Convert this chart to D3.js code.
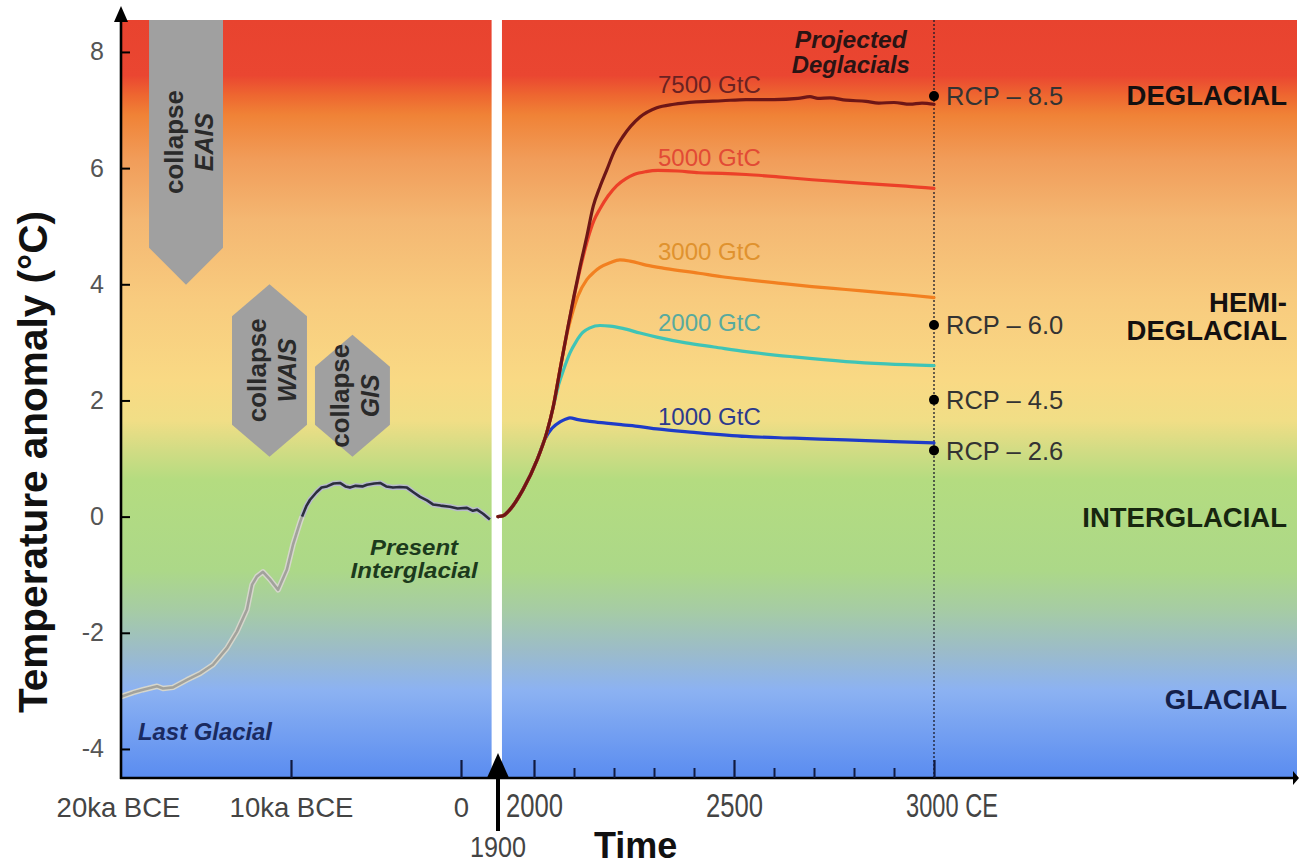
<!DOCTYPE html>
<html><head><meta charset="utf-8">
<script src="https://cdn.jsdelivr.net/npm/d3@7"></script>
<style>
html,body{margin:0;padding:0;background:#fff;}
svg{display:block;font-family:"Liberation Sans",Arial,Helvetica,sans-serif;}
</style>
</head><body>
<svg id="c" width="1299" height="866"></svg>
<script>
// ---------------- DATA ----------------
const yTicks = [-4, -2, 0, 2, 4, 6, 8];
const paleoTickValues = [-20000, -10000, 0];
const paleoTickLabels = ["20ka BCE", "10ka BCE", "0"];
const modernMajorTicks = [2000, 2500, 3000];
const modernTickLabels = ["2000", "2500", "3000 CE"];
const modernMinorTicks = [2100, 2200, 2300, 2400, 2600, 2700, 2800, 2900];

// paleo record [year (negative = BCE), anomaly °C]
const lastGlacial = [[-20000,-3.10],[-19300,-3.03],[-18710,-2.98],[-17880,-2.92],[-17530,-2.96],[-16940,-2.94],
  [-16120,-2.81],[-15350,-2.70],[-14590,-2.55],[-13760,-2.26],[-13180,-1.98],[-12590,-1.60],[-12290,-1.17],
  [-12000,-1.03],[-11650,-0.95],[-11240,-1.08],[-10760,-1.26],[-10240,-0.91],[-9880,-0.48],[-9470,-0.10],[-9350,0.0]];
const holocene = [[-9350,0.0],[-9100,0.18],[-8880,0.29],[-8500,0.42],[-8200,0.50],[-7880,0.52],[-7500,0.57],
  [-7120,0.58],[-6800,0.52],[-6530,0.50],[-6200,0.53],[-5800,0.52],[-5530,0.55],[-5100,0.57],[-4760,0.58],
  [-4400,0.52],[-4000,0.50],[-3600,0.51],[-3180,0.50],[-2800,0.42],[-2410,0.34],[-2000,0.28],[-1650,0.21],
  [-1200,0.19],[-650,0.17],[-200,0.14],[350,0.15],[700,0.10],[940,0.12],[1300,0.05],[1700,-0.05]];

// projections [year CE, anomaly °C]
const trunk = [[1900,0],[1912,0.01],[1933,0.12],[1969,0.46],[2008,0.98]];
const s7500 = trunk.concat([[2032,1.45],[2048,1.89],[2065,2.53],[2085,3.27],[2100,3.80],[2115,4.30],[2132,4.82],
  [2148,5.34],[2165,5.68],[2182,5.97],[2200,6.28],[2222,6.54],[2265,6.88],[2307,7.04],[2350,7.10],[2405,7.14],
  [2470,7.16],[2530,7.18],[2600,7.18],[2660,7.20],[2690,7.23],[2710,7.20],[2740,7.21],[2780,7.17],[2830,7.15],
  [2862,7.12],[2900,7.13],[2940,7.10],[2970,7.12],[3000,7.10]]);
const s5000 = trunk.concat([[2032,1.45],[2048,1.89],[2065,2.53],[2085,3.27],[2100,3.78],[2115,4.25],[2132,4.72],
  [2150,5.10],[2165,5.30],[2185,5.52],[2207,5.70],[2230,5.82],[2250,5.89],[2280,5.94],[2310,5.96],[2360,5.95],
  [2412,5.92],[2470,5.91],[2530,5.89],[2610,5.85],[2695,5.80],[2780,5.76],[2862,5.72],[2930,5.69],[3000,5.65]]);
const s3000 = trunk.concat([[2032,1.45],[2048,1.89],[2065,2.53],[2085,3.22],[2095,3.48],[2110,3.80],[2132,4.08],
  [2150,4.21],[2165,4.29],[2190,4.37],[2215,4.42],[2240,4.40],[2280,4.33],[2330,4.27],[2412,4.19],[2470,4.13],
  [2530,4.08],[2610,4.02],[2695,3.96],[2780,3.91],[2862,3.86],[2930,3.82],[3000,3.77]]);
const s2000 = trunk.concat([[2032,1.45],[2048,1.88],[2062,2.28],[2075,2.55],[2090,2.82],[2105,3.01],[2122,3.17],
  [2140,3.25],[2165,3.29],[2190,3.28],[2222,3.24],[2265,3.16],[2307,3.09],[2380,2.99],[2450,2.92],[2530,2.84],
  [2650,2.75],[2780,2.67],[2880,2.63],[3000,2.60]]);
const s1000 = trunk.concat([[2027,1.33],[2045,1.52],[2065,1.63],[2080,1.68],[2090,1.70],[2110,1.67],[2140,1.64],
  [2180,1.61],[2222,1.58],[2265,1.55],[2307,1.51],[2400,1.45],[2530,1.38],[2650,1.35],[2780,1.32],[2900,1.29],
  [3000,1.27]]);
const scenarioNames = ["1000 GtC", "2000 GtC", "3000 GtC", "5000 GtC", "7500 GtC"];
const scenarioSeries = [s1000, s2000, s3000, s5000, s7500];
const scenarioLabelValues = [1.72, 3.34, 4.56, 6.18, 7.44];

const rcpNames = ["RCP – 8.5", "RCP – 6.0", "RCP – 4.5", "RCP – 2.6"];
const rcpValues = [7.24, 3.30, 2.01, 1.14];

const regimeNames = [["DEGLACIAL"], ["HEMI-", "DEGLACIAL"], ["INTERGLACIAL"], ["GLACIAL"]];
const regimeValues = [7.26, 3.46, 0.0, -3.15];

const iceSheetNames = ["EAIS", "WAIS", "GIS"];

// ---------------- LAYOUT ----------------
const svg = d3.select("#c");
const L = 121, R = 1297, T = 20, B = 778;
const y = d3.scaleLinear().domain([-4.5, 8.55]).range([B, T]);
const xP = d3.scaleLinear().domain([-20000, 0]).range([121, 461]);
const xM = d3.scaleLinear().domain([1900, 2000, 3000]).range([498, 534, 934]);

// gradient background
const defs = svg.append("defs");
const grad = defs.append("linearGradient").attr("id","bg").attr("gradientUnits","userSpaceOnUse")
  .attr("x1",0).attr("x2",0).attr("y1",T).attr("y2",B);
[[0,"#e8432f"],[0.073,"#ea4631"],[0.099,"#ee6630"],[0.125,"#f08236"],[0.185,"#f19d5a"],[0.264,"#f4b772"],
 [0.369,"#f8cb7e"],[0.475,"#f9d984"],[0.528,"#f1de86"],[0.567,"#d2dc84"],[0.607,"#b4dc80"],[0.726,"#acd888"],
 [0.778,"#a6cca4"],[0.831,"#9cbcc8"],[0.884,"#8cb2f2"],[1,"#5a8cf0"]]
 .forEach(s => grad.append("stop").attr("offset", s[0]).attr("stop-color", s[1]));

svg.append("rect").attr("x",L).attr("y",T).attr("width",R-L).attr("height",B-T).attr("fill","url(#bg)");

// white gap between paleo and modern
svg.append("rect").attr("x", xP(1800)).attr("y", T - 4).attr("width", xM(1911) - xP(1800)).attr("height", B - T + 4)
  .attr("fill", "#ffffff");

// ice sheet collapse shapes (in data units)
const shapes = [
  {x0:-18350, x1:-14000, pts:[[0,8.55],[1,8.55],[1,4.63],[0.5,3.99],[0,4.63]], textV:6.45},
  {x0:-13470, x1:-9060, pts:[[0.5,4.0],[1,3.45],[1,1.58],[0.5,1.03],[0,1.58],[0,3.45]], textV:2.52},
  {x0:-8590, x1:-4180, pts:[[0.5,3.13],[1,2.58],[1,1.58],[0.5,1.03],[0,1.58],[0,2.58]], textV:2.08}
];
shapes.forEach((s, i) => {
  const xs = d3.scaleLinear().domain([0,1]).range([xP(s.x0), xP(s.x1)]);
  svg.append("polygon").attr("points", s.pts.map(p => [xs(p[0]), y(p[1])].join(",")).join(" "))
    .attr("fill", "#a0a0a0");
  const cx = xs(0.5), cy = y(s.textV);
  svg.append("text").attr("transform", `translate(${cx - 3.5},${cy}) rotate(-90)`)
    .attr("text-anchor","middle").attr("font-size",25).attr("font-weight","bold").attr("fill","#2a2a2a")
    .attr("textLength",104).attr("lengthAdjust","spacingAndGlyphs").text("collapse");
  svg.append("text").attr("transform", `translate(${cx + 26.5},${cy}) rotate(-90)`)
    .attr("text-anchor","middle").attr("font-size",25).attr("font-weight","bold").attr("font-style","italic")
    .attr("fill","#2a2a2a").text(iceSheetNames[i]);
});

// dotted 3000 CE line
svg.append("line").attr("x1", xM(3000)).attr("x2", xM(3000)).attr("y1", T).attr("y2", B)
  .attr("stroke","#1a1a2a").attr("stroke-width",1.3).attr("stroke-dasharray","2,2");

// paleo curves
const lineP = d3.line().x(d => xP(d[0])).y(d => y(d[1]));
svg.append("path").attr("d", lineP(lastGlacial)).attr("fill","none").attr("stroke","#d6d6cc").attr("stroke-width",5.5)
  .attr("stroke-linejoin","round");
svg.append("path").attr("d", lineP(lastGlacial)).attr("fill","none").attr("stroke","#a2a29c").attr("stroke-width",2.6)
  .attr("stroke-linejoin","round");
svg.append("path").attr("d", lineP(holocene)).attr("fill","none").attr("stroke","#b8bcca").attr("stroke-width",5.5)
  .attr("stroke-linejoin","round");
svg.append("path").attr("d", lineP(holocene)).attr("fill","none").attr("stroke","#2c2e3e").attr("stroke-width",2.6)
  .attr("stroke-linejoin","round");

// modern curves
const scenarioColors = ["#1e3cc8", "#3fc4b6", "#f28020", "#ec4028", "#6e1616"];
const scenarioLabelColors = ["#2c3a8c", "#58aa9e", "#e0922e", "#e24a35", "#6a2222"];
const lineM = d3.line().x(d => xM(d[0])).y(d => y(d[1])).curve(d3.curveMonotoneX);
scenarioSeries.forEach((s, i) => {
  svg.append("path").attr("d", lineM(s)).attr("fill","none").attr("stroke", scenarioColors[i])
    .attr("stroke-width", 3.2).attr("stroke-linecap","round");
});
scenarioNames.forEach((n, i) => {
  svg.append("text").attr("x", xM(2310)).attr("y", y(scenarioLabelValues[i])).attr("dy","0.36em")
    .attr("font-size",24).attr("fill", scenarioLabelColors[i]).text(n);
});

// RCP dots
rcpValues.forEach((v, i) => {
  svg.append("circle").attr("cx", xM(3000)).attr("cy", y(v)).attr("r", 5).attr("fill", "#000");
  svg.append("text").attr("x", xM(3000) + 12).attr("y", y(v)).attr("dy","0.36em")
    .attr("font-size",25.5).attr("fill","#333").text(rcpNames[i]);
});

// regime labels
regimeNames.forEach((lines, i) => {
  const t = svg.append("text").attr("text-anchor","end").attr("font-size",27.5).attr("font-weight","bold")
    .attr("fill", i === 3 ? "#14204a" : (i === 2 ? "#17260f" : "#141010"));
  lines.forEach((ln, j) => {
    t.append("tspan").attr("x", 1287).attr("y", y(regimeValues[i]) + (j - (lines.length - 1) / 2) * 28)
      .attr("dy","0.36em").text(ln);
  });
});

// other annotations
const annot = (txt, x, yy, anchor, size, color, len) => {
  const t = svg.append("text").attr("x", x).attr("y", yy).attr("text-anchor", anchor).attr("font-size", size)
    .attr("font-weight","bold").attr("font-style","italic").attr("fill", color).text(txt);
  if (len) t.attr("textLength", len).attr("lengthAdjust","spacingAndGlyphs");
};
annot("Projected", xM(2792), 48, "middle", 23, "#2a1414", 112);
annot("Deglacials", xM(2792), 73, "middle", 23, "#2a1414", 118);
annot("Present", xP(-2760), 555, "middle", 22, "#1c3a1c", 88);
annot("Interglacial", xP(-2760), 578, "middle", 22, "#1c3a1c", 127);
annot("Last Glacial", xP(-19000), 740, "start", 23, "#1a2a60", 134);

// ---------------- AXES ----------------
// y axis
const gy = svg.append("g").attr("transform", `translate(${L},0)`)
  .call(d3.axisLeft(y).tickValues(yTicks).tickFormat(d => String(d)).tickSizeInner(-9).tickSizeOuter(0).tickPadding(17));
gy.select(".domain").remove();
gy.selectAll(".tick line").attr("stroke","#000").attr("stroke-width",2);
gy.selectAll(".tick text").attr("font-size",25).attr("fill","#555").attr("font-family",null);

svg.append("line").attr("x1", L).attr("x2", L).attr("y1", B + 1).attr("y2", 16).attr("stroke","#000").attr("stroke-width",2.6);
svg.append("polygon").attr("points", `${L},6 ${L-7},22 ${L+7},22`).attr("fill","#000");

// x axis line
svg.append("line").attr("x1", L - 1).attr("x2", R).attr("y1", B).attr("y2", B).attr("stroke","#000").attr("stroke-width",2.6);
svg.append("polygon").attr("points", `${R+2},${B} ${R-4},${B-7} ${R-4},${B+7}`).attr("fill","#000");

// paleo axis
const gxp = svg.append("g").attr("transform", `translate(0,${B})`)
  .call(d3.axisBottom(xP).tickValues(paleoTickValues).tickFormat((d, i) => paleoTickLabels[i])
    .tickSizeInner(-18).tickSizeOuter(0).tickPadding(0));
gxp.select(".domain").remove();
gxp.selectAll(".tick line").attr("stroke","#101a40").attr("stroke-width",2.2).filter(d => d === -20000).remove();
gxp.selectAll(".tick text").attr("y", 39).attr("dy", 0).attr("font-size",27.5).attr("fill","#444").attr("font-family",null);
gxp.selectAll(".tick").filter(d => d === -20000).select("text").attr("dx", -3);

// modern axis
const gxm = svg.append("g").attr("transform", `translate(0,${B})`)
  .call(d3.axisBottom(xM).tickValues(modernMajorTicks).tickFormat((d, i) => modernTickLabels[i])
    .tickSizeInner(-18).tickSizeOuter(0).tickPadding(0));
gxm.select(".domain").remove();
gxm.selectAll(".tick line").attr("stroke","#101a40").attr("stroke-width",2.2);
gxm.selectAll(".tick text").attr("y", 39).attr("dy", 0).attr("font-size",33).attr("fill","#444").attr("font-family",null)
  .attr("lengthAdjust","spacingAndGlyphs")
  .attr("textLength", d => d === 3000 ? 92 : 57)
  .attr("dx", d => d === 3000 ? 17.5 : 0);
const gxm2 = svg.append("g").attr("transform", `translate(0,${B})`)
  .call(d3.axisBottom(xM).tickValues(modernMinorTicks).tickFormat("").tickSizeInner(-10).tickSizeOuter(0));
gxm2.select(".domain").remove();
gxm2.selectAll(".tick line").attr("stroke","#101a40").attr("stroke-width",2);

// 1900 arrow
const x1900 = xM(1900);
svg.append("rect").attr("x", x1900 - 2).attr("y", B - 2).attr("width", 4).attr("height", 55).attr("fill","#000");
svg.append("polygon").attr("points", `${x1900},753 ${x1900-11.5},${B+1} ${x1900+11.5},${B+1}`).attr("fill","#000");
svg.append("text").attr("x", x1900).attr("y", 857).attr("text-anchor","middle").attr("font-size",30).attr("fill","#444")
  .attr("textLength",56).attr("lengthAdjust","spacingAndGlyphs").text("1900");

// axis titles
svg.append("text").attr("x", 594).attr("y", 858).attr("font-size",36).attr("font-weight","bold").attr("fill","#111").text("Time");
svg.append("text").attr("transform", "translate(47,462) rotate(-90)").attr("text-anchor","middle")
  .attr("font-size",41).attr("font-weight","bold").attr("fill","#111")
  .attr("textLength",502).attr("lengthAdjust","spacingAndGlyphs").text("Temperature anomaly (°C)");
</script>
</body></html>
